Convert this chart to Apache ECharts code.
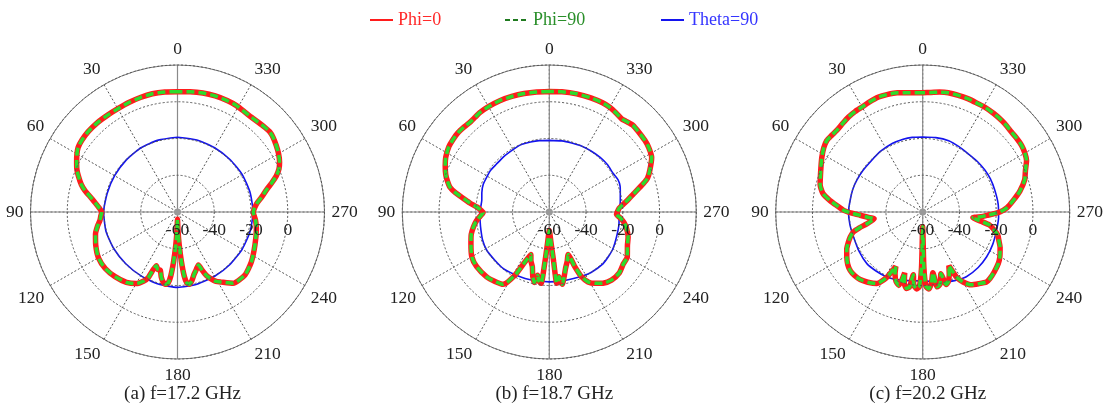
<!DOCTYPE html>
<html>
<head>
<meta charset="utf-8">
<script src="https://cdn.jsdelivr.net/npm/echarts@6/dist/echarts.min.js"></script>
<style>
    html, body { margin: 0; padding: 0; background: #fff; }
    #chart { width: 1106px; height: 413px; }
</style>
</head>
<body>
<div id="chart"></div>
<script>
// each point: [angle in degrees (0 at top, counter-clockwise), gain in dB]
const phi0A = [[0,5.5],[6,5.7],[12,5.8],[18,5.5],[24,5.2],[30,4.9],[36,5.0],[42,5.3],[48,5.4],[53,5.1],[57,4.5],[60,3.2],[63,1.6],[67,-0.5],[70,-2.6],[74,-5.5],[77,-8.3],[81,-12.7],[84,-15.2],[87,-17.3],[90,-18.8],[93,-18.2],[96,-17.6],[100,-15.8],[105,-13.8],[112,-12],[120,-10.3],[128,-10.1],[136,-11.1],[144,-12.7],[150,-15],[154,-18.2],[156,-21],[158.5,-28.6],[161,-27],[163.5,-27],[166,-23.5],[168.5,-21],[170.5,-20.1],[172.5,-21],[174,-25],[175.5,-33],[177,-42],[178.5,-50],[180,-56],[181.5,-50],[183,-42],[184.5,-33],[186,-25],[187.5,-21],[189.5,-20.2],[192,-22],[195,-25],[198,-27],[201.5,-29],[203,-25.5],[204.5,-22],[206.5,-19.5],[209,-16.8],[212,-15],[218,-10.8],[227,-9.8],[236,-11.5],[247,-14.2],[258,-16.1],[264,-17.3],[270,-18.8],[273,-18],[276,-16.7],[280,-13.5],[284,-10.1],[287,-6.5],[290,-2.8],[293,0],[296,1.8],[300,3.5],[304,4.8],[308,6],[311,6.5],[314,6.2],[318,5.7],[322,5.4],[326,5.6],[331,6.2],[336,6.4],[342,6.4],[348,6.2],[354,5.8],[360,5.5]];
const phi0B = [[0,5.6],[6,5.7],[12,5.9],[18,6.1],[24,6.3],[30,6.2],[35,6.0],[38,5.5],[41,5.2],[45,5.5],[49,5.8],[53,5.6],[57,5.2],[62,3.8],[66,2.0],[70,0],[73,-2],[76,-4.3],[78.5,-8],[81,-12.7],[83.5,-16.5],[86,-20.4],[88.5,-22.8],[90.5,-24],[92,-23.3],[94,-22],[97,-20],[101,-18],[106,-15.8],[112,-14],[120,-11.3],[127,-10.5],[136,-10.9],[142,-12],[147.5,-13.3],[151.5,-20.9],[154,-29.8],[156.5,-34.8],[159.5,-31.5],[162.8,-28.8],[165.5,-24],[168,-20.8],[169.5,-25],[171.5,-22],[173.4,-20.9],[175,-33],[177,-44],[180,-50],[183,-44],[185,-33],[186,-21],[187.3,-22],[188.5,-24.4],[190.2,-20],[193,-24],[196,-28],[200,-31.5],[204,-34.7],[205,-27.4],[206.5,-20.6],[209,-16.5],[212.6,-13.9],[217,-11.5],[222.4,-9.8],[229,-9.5],[235,-10.8],[240,-11],[247,-13.8],[252.4,-15],[258,-17],[262,-19],[265,-21],[268,-23.4],[270,-23],[273,-22],[276,-19.5],[279,-16.5],[282,-13.3],[286.8,-6.6],[289,-3.5],[292.5,-0.8],[298,3.1],[303,4.5],[307,5],[312,5.3],[316,5.6],[320,4.6],[322,4.2],[326,5],[330,5.8],[334,6.1],[340,6.1],[347,6.0],[354,5.8],[360,5.6]];
const phi0C = [[0,4.9],[6,5.2],[12,6.3],[17,6.8],[21,7.0],[26,6.5],[30,6.0],[34,5.9],[38,5.6],[42,5.0],[46.5,4.5],[50,4.8],[53.3,5.1],[57,4.2],[61.4,2.5],[66,0.6],[71,-1.1],[75,-2.2],[79.5,-4.8],[83,-9.2],[86,-13.5],[88.8,-17],[91,-21.5],[93,-25.9],[95.5,-30],[97.8,-33.3],[100,-31.5],[102,-28.9],[104,-24.5],[106,-20.8],[109,-18.3],[112,-16.4],[116,-14],[120.6,-12],[125,-10.2],[129,-9.3],[133,-9.3],[137.2,-9.9],[142,-11.5],[147.3,-13.7],[151,-19],[153.7,-27],[156,-23],[159,-19.5],[162,-18],[163.5,-25.5],[165.5,-20],[168,-17.5],[170,-18.5],[171.5,-25.5],[173,-20],[175.5,-18],[177.5,-19.5],[178.8,-30],[180,-52],[181.2,-30],[182.5,-19.5],[184.5,-18],[187,-21],[189.5,-26.5],[191,-18.5],[193.5,-19.5],[196.5,-25],[198,-18.5],[200,-19.5],[203,-23],[206,-27.5],[207.5,-20],[210,-16],[213.5,-12.5],[218,-10.5],[222.4,-8.5],[225.3,-8.5],[230,-9.2],[235.7,-10.2],[240,-11.5],[245.5,-13.7],[249,-15.5],[253,-17.3],[256,-20],[259,-23],[261,-28],[263.5,-32.5],[265.5,-28],[267,-25],[268.5,-21.5],[270,-18],[273,-14],[277.3,-10.3],[282,-6],[287.5,-1.8],[292,0.3],[296.4,3.1],[300,4.2],[304,4.9],[308,5.0],[312,5.0],[316,5.5],[319.2,5.8],[324,6.1],[329.3,6.3],[333,6.2],[338,6.4],[343,6.4],[347.9,6.4],[352,5.9],[356,5.2],[360,4.9]];

// the Phi=90 trace lies exactly on the Phi=0 trace in all three plots
const phi90A = phi0A;
const phi90B = phi0B;
const phi90C = phi0C;

const thetaA = [[0,-19.3],[15,-19.5],[30,-19.8],[45,-20.3],[60,-20.5],[75,-20.4],[90,-19.8],[105,-19.7],[120,-20],[135,-20.2],[150,-20],[165,-19.4],[180,-19],[195,-19.3],[210,-19.6],[225,-19.6],[240,-19.4],[255,-19.1],[270,-18.9],[285,-19.1],[300,-19.3],[315,-19.6],[330,-19.6],[345,-19.4],[360,-19.3]];
const thetaB = [[0,-21],[8,-20.8],[15,-20.6],[22,-20.3],[27,-20.5],[34,-20.9],[40,-21],[48,-21.2],[55,-20.8],[60,-21],[67,-21],[74,-21.8],[80,-22.7],[90,-22.3],[98,-22],[105,-21.5],[113,-20.6],[121,-20.1],[131,-20.4],[141,-20.3],[150,-21],[160,-21.5],[170,-22],[180,-22],[190,-21.8],[200,-21.5],[208,-20.7],[215,-20],[226,-19.4],[233,-19.7],[240,-20],[250,-21],[260,-21.5],[270,-22],[278,-21],[285,-20],[290,-19],[295,-18.7],[301,-19.4],[309,-19.2],[317,-19.4],[326,-19.8],[335,-20.1],[342,-20.5],[350,-20.7],[360,-21]];
const thetaC = [[0,-19.2],[8,-19],[15,-19],[24,-19.2],[35,-19.8],[45,-20.5],[55,-20.4],[64,-20.2],[72,-20],[81,-20],[90,-19.6],[100,-19.8],[110,-20],[122,-19.3],[133,-18.6],[142,-19.1],[151,-19.6],[158,-20.5],[165,-21.5],[172,-22.2],[180,-22.5],[188,-21.8],[195,-20.5],[205,-18.8],[214,-17.5],[225,-17.3],[235,-17.5],[245,-18],[256,-18.6],[266,-18.6],[276,-18.7],[287,-19],[296,-19],[304,-19.2],[313,-19.5],[322,-19.8],[331,-19.3],[340,-18.7],[350,-18.9],[360,-19.2]];

const captions = ['(a) f=17.2 GHz', '(b) f=18.7 GHz', '(c) f=20.2 GHz'];
const radiusTicks = { min: -60, max: 20, step: 20 };

const panels = [
    { phi0: phi0A, phi90: phi90A, theta: thetaA },
    { phi0: phi0B, phi90: phi90B, theta: thetaB },
    { phi0: phi0C, phi90: phi90C, theta: thetaC }
];

const font = "'Liberation Serif', 'Times New Roman', serif";
const centersX = [177.5, 549.3, 922.7];
const centerY = 212;
const R = 147;

// the plot has 0 at the top; echarts angle 0 is east, so shift by 90
function toPolar(list) {
    return list.map(p => [p[1], (p[0] + 90) % 360]);
}

let chart = echarts.init(document.getElementById('chart'));

let polar = [];
let angleAxis = [];
let radiusAxis = [];
let series = [];
let title = [];
let graphic = [];

centersX.forEach((cx, i) => {
    polar[i] = { center: [cx, centerY], radius: R };
    polar[i + 3] = { center: [cx, centerY], radius: R };

    angleAxis[i] = {
        type: 'value', polarIndex: i, min: 0, max: 360, interval: 30,
        startAngle: 0, clockwise: false,
        axisLine: { lineStyle: { color: '#7a7a7a', width: 1 } },
        axisTick: { show: false },
        axisLabel: {
            formatter: v => String((v + 270) % 360),
            color: '#222', fontSize: 17.5, fontFamily: font, margin: 7
        },
        splitLine: { lineStyle: { color: '#555', type: [2, 2], width: 1 } }
    };
    // solid horizontal / vertical lines
    angleAxis[i + 3] = {
        type: 'value', polarIndex: i + 3, min: 0, max: 360, interval: 90,
        startAngle: 0, clockwise: false,
        axisLine: { show: false },
        axisTick: { show: false },
        axisLabel: { show: false },
        splitLine: { lineStyle: { color: '#8a8a8a', width: 1.2 } }
    };

    radiusAxis[i] = {
        type: 'value', polarIndex: i,
        min: radiusTicks.min, max: radiusTicks.max, interval: radiusTicks.step,
        axisLine: { show: false },
        axisTick: { show: false },
        axisLabel: {
            formatter: v => (v >= radiusTicks.max ? '' : String(v)),
            margin: -18, verticalAlign: 'middle', align: 'center',
            color: '#222', fontSize: 17.5, fontFamily: font
        },
        splitLine: { lineStyle: { color: '#555', type: [2, 2], width: 1 } },
        z: 5
    };
    radiusAxis[i + 3] = {
        type: 'value', polarIndex: i + 3,
        min: radiusTicks.min, max: radiusTicks.max, show: false
    };

    let p = panels[i];
    series.push({
        name: 'Theta=90', type: 'line', coordinateSystem: 'polar', polarIndex: i,
        data: toPolar(p.theta), symbol: 'none', smooth: 0.2,
        lineStyle: { color: '#1414ee', width: 1.6 }, itemStyle: { color: '#1414ee' }, z: 2
    });
    series.push({
        name: 'Phi=0', type: 'line', coordinateSystem: 'polar', polarIndex: i,
        data: toPolar(p.phi0), symbol: 'none', smooth: 0.2,
        lineStyle: { color: '#ff1c1c', width: 5.5 }, itemStyle: { color: '#ff1c1c' }, z: 3
    });
    series.push({
        name: 'Phi=90', type: 'line', coordinateSystem: 'polar', polarIndex: i,
        data: toPolar(p.phi90), symbol: 'none', smooth: 0.2,
        lineStyle: { color: '#2cdc2c', width: 3.5, type: [8, 4] }, itemStyle: { color: '#2cdc2c' }, z: 4
    });

    title.push({
        text: captions[i], left: cx, top: 380, textAlign: 'center',
        textStyle: { fontFamily: font, fontSize: 19, fontWeight: 'normal', color: '#222' }
    });

    graphic.push({
        type: 'circle', shape: { cx: cx, cy: centerY, r: 3.5 },
        style: { fill: '#999' }, z: 1
    });
});

function makeLegend(left, name, textColor, lineColor, lineType) {
    return {
        left: left, top: 6, itemWidth: 23, itemHeight: 14, itemGap: 5, selectedMode: false,
        textStyle: { fontFamily: font, fontSize: 18, color: textColor },
        itemStyle: { opacity: 0 },
        lineStyle: { width: 2, color: lineColor, type: lineType },
        data: [{ name: name }]
    };
}

let option = {
    backgroundColor: '#fff',
    animation: false,
    title: title,
    legend: [
        makeLegend(364, 'Phi=0', '#ff2a2a', '#ff1c1c', 'solid'),
        makeLegend(499, 'Phi=90', '#2a8f2a', '#1f7a1f', [5, 3]),
        makeLegend(655, 'Theta=90', '#3535ff', '#1414ee', 'solid')
    ],
    polar: polar,
    angleAxis: angleAxis,
    radiusAxis: radiusAxis,
    series: series,
    graphic: graphic
};

option && chart.setOption(option);
</script>
</body>
</html>
